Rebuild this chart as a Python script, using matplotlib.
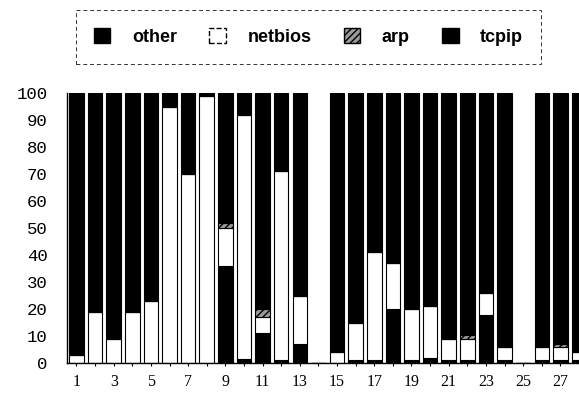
import matplotlib
matplotlib.use('Agg')
import matplotlib.pyplot as plt
import numpy as np
from matplotlib.patches import Patch

# stacked shares per sample, bottom to top: tcpip, netbios, arp, other
samples = list(range(1, 29))
tcpip = [0, 0, 0, 0, 0, 0, 0, 0, 36, 1.5, 11, 1, 7, 0,
         0, 1, 1, 20, 1, 2, 1, 1, 18, 1, 0, 1, 1, 1]
netbios = [3, 19, 9, 19, 23, 95, 70, 99, 14, 90.5, 6, 70, 18, 0,
           4, 14, 40, 17, 19, 19, 8, 8, 8, 5, 0, 5, 5, 3]
arp = [0, 0, 0, 0, 0, 0, 0, 0, 2, 0, 3, 0, 0, 0,
       0, 0, 0, 0, 0, 0, 0, 1.5, 0, 0, 0, 0, 1, 0]
empty = [14, 25]
other = [0 if s in empty else 100 - t - n - a
         for s, t, n, a in zip(samples, tcpip, netbios, arp)]


def main():
    fig = plt.figure(figsize=(5.79, 3.96), dpi=100)
    ax = fig.add_axes([0.116, 0.083, 0.884, 0.682])

    x = np.array(samples)
    t = np.array(tcpip)
    n = np.array(netbios)
    a = np.array(arp)
    o = np.array(other)
    w = 0.78
    kw = dict(width=w, edgecolor='black', linewidth=0.8)
    ax.bar(x, t, color='black', **kw)
    ax.bar(x, n, bottom=t, color='white', **kw)
    ax.bar(x, a, bottom=t + n, color='#9a9a9a', hatch='/////', **kw)
    ax.bar(x, o, bottom=t + n + a, color='black', **kw)

    ax.set_xlim(0.5, 28.0)
    ax.set_ylim(0, 100)
    ax.set_yticks(range(0, 101, 10))
    ax.set_xticks(samples)
    ax.set_xticklabels([str(s) if s % 2 == 1 else '' for s in samples],
                       family='Liberation Serif', fontsize=11.5)
    ax.set_yticklabels([str(v) for v in range(0, 101, 10)],
                       family='Liberation Mono', fontsize=12.5)
    ax.tick_params(axis='x', length=2, pad=6)
    ax.tick_params(axis='y', length=0, pad=14)
    for side in ['top', 'right']:
        ax.spines[side].set_visible(False)
    ax.spines['left'].set_linewidth(1.0)
    ax.spines['bottom'].set_linewidth(1.0)

    handles = [
        Patch(facecolor='black', edgecolor='black', label='other'),
        Patch(facecolor='white', edgecolor='black', linestyle='--', label='netbios'),
        Patch(facecolor='#9a9a9a', edgecolor='black', hatch='/////', label='arp'),
        Patch(facecolor='black', edgecolor='black', label='tcpip'),
    ]
    leg = fig.legend(handles=handles, ncol=4, loc='center',
                     bbox_to_anchor=(0.533, 0.906),
                     prop={'family': 'Liberation Sans', 'weight': 'bold', 'size': 13},
                     handlelength=0.9, handleheight=0.9, columnspacing=1.8,
                     handletextpad=1.2, borderpad=1.0, fancybox=False,
                     edgecolor='black')
    leg.get_frame().set_linestyle((0, (4, 3)))
    leg.get_frame().set_linewidth(0.7)

    fig.savefig('out.png', dpi=100)


if __name__ == '__main__':
    main()
